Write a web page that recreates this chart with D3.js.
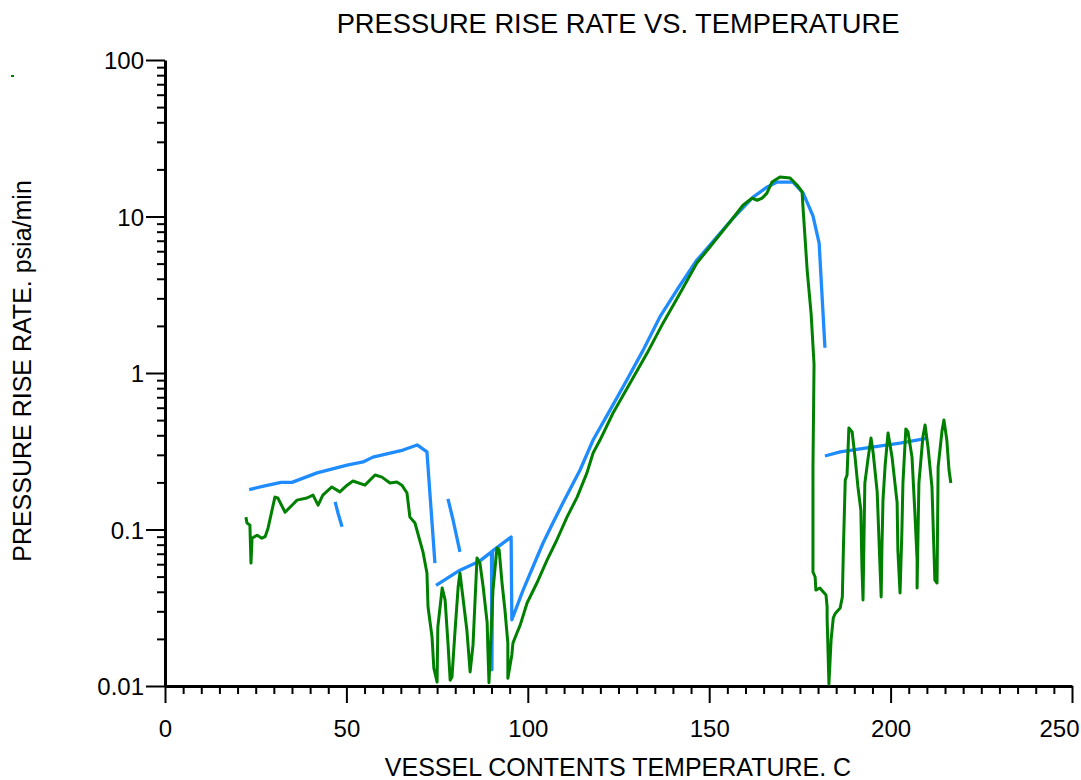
<!DOCTYPE html>
<html>
<head>
<meta charset="utf-8">
<script src="https://cdn.jsdelivr.net/npm/d3@7"></script>
<style>
  body { margin: 0; background: #fff; }
  text { font-family: "Liberation Sans", Arial, sans-serif; fill: #000; }
</style>
</head>
<body>
<div id="chart"></div>
<script>
// temperature (C), pressure rise rate (psia/min)
var blueRunA = [[23.2,0.18],[27.5,0.19],[32,0.20],[35,0.20],[41.9,0.23],[50.2,0.258],[54.6,0.27],
    [57.3,0.29],[65.6,0.322],[69.5,0.347],[72.2,0.313],[74.4,0.061]];
var blueRunB = [[46.9,0.150],[47.7,0.127],[48.8,0.104]];
var blueRunC = [[78.0,0.157],[79.4,0.115],[81.3,0.072]];
var blueRunD = [[74.7,0.044],[81.3,0.055],[86.8,0.063],[90.0,0.072],[90.1,0.0127],[90.3,0.073],
    [95.4,0.0895],[95.6,0.0265],[98.7,0.041],[101.4,0.0576],[104.2,0.082],[106.9,0.110],
    [109.7,0.148],[114.4,0.240],[118.0,0.373],[122.7,0.581],[127.3,0.902],[131.8,1.40],
    [136.4,2.28],[141.1,3.39],[146.6,5.27],[148.3,5.84],[156.6,9.78],[162.1,13.3],
    [165.9,15.4],[168.7,16.6],[173.1,16.6],[175.9,14.1],[178.6,10.1],[180.3,6.77],[181.9,1.45]];
var blueRunE = [[181.9,0.295],[186.1,0.313],[193.5,0.332],[202.6,0.357],[210.3,0.384]];

var greenEarly = [[22.3,0.120],[22.6,0.110],[23.4,0.107],[23.7,0.061],[24.0,0.088],[25.4,0.092],
    [26.7,0.088],[27.6,0.090],[28.4,0.102],[29.5,0.133],[30.3,0.161],[31.1,0.159],[33.1,0.129],
    [35.0,0.143],[36.4,0.154],[39.1,0.159],[40.8,0.166],[42.2,0.143],[43.5,0.166],[46.0,0.187],
    [48.2,0.174],[50.2,0.192],[51.8,0.204],[55.1,0.192],[57.9,0.223],[59.8,0.216],[62.0,0.198],
    [63.9,0.201],[65.3,0.192],[66.7,0.171],[67.5,0.120],[68.9,0.110],[71.1,0.072],[72.2,0.0527],
    [72.5,0.032],[73.6,0.0206],[74.1,0.013]];
var greenDips = [[75.0,0.0106],[75.2,0.0238],[76.4,0.0423],[77.2,0.0355],[78.0,0.0188],[78.6,0.0109],
    [79.1,0.0114],[79.9,0.0218],[80.8,0.0429],[81.3,0.0527],[82.1,0.0371],[83.2,0.0228],[84.1,0.0123],
    [84.9,0.0183],[86.0,0.0657],[86.8,0.0611],[87.7,0.0429],[88.8,0.0253],[89.0,0.017],[89.3,0.0105],
    [90.4,0.041],[91.5,0.0762],[92.1,0.074],[92.9,0.0455],[93.7,0.0306],[94.5,0.0188],[94.5,0.0112],
    [95.6,0.0158],[95.9,0.0188],[97.0,0.0218]];
var greenRamp = [[97.9,0.0245],[99.8,0.0339],[102.5,0.0455],[105.3,0.0638],[108.0,0.0857],
    [110.8,0.120],[113.6,0.161],[116.3,0.230],[118.0,0.308],[119.9,0.373],[123.5,0.555],[128.2,0.863],
    [132.9,1.34],[137.3,2.09],[142.0,3.25],[146.6,5.05],[150.2,6.38],[153.5,7.96],[156.6,9.78],
    [159.3,11.8],[161.8,13.1],[163.2,12.7],[164.6,13.1],[165.9,14.1],[167.3,16.6],[169.5,17.9],
    [172.3,17.6],[174.2,15.9],[175.6,14.4],[175.9,11.0],[176.4,7.40],[177.0,4.55],[178.1,2.38],
    [178.9,1.14],[178.6,0.251],[178.6,0.0535],[179.2,0.0497],[179.4,0.041],[180.5,0.0423],
    [181.4,0.040],[182.2,0.0381],[182.5,0.032],[182.5,0.0272],[183.0,0.0103]];
var greenTail = [[183.6,0.0197],[184.2,0.0272],[184.8,0.0292],[186.1,0.0315],[186.7,0.0371],
    [187.0,0.0773],[187.5,0.207],[188.0,0.223],[188.5,0.446],[189.4,0.420],[190.2,0.290],[191.0,0.187],
    [191.8,0.133],[192.1,0.0576],[192.4,0.0355],[192.9,0.198],[193.8,0.286],[194.6,0.384],[195.2,0.308],
    [196.3,0.174],[196.8,0.0857],[197.4,0.0371],[197.6,0.074],[197.9,0.154],[198.5,0.258],[199.3,0.414],
    [200.4,0.290],[201.8,0.148],[202.0,0.074],[202.6,0.0393],[203.1,0.095],[203.4,0.198],[204.2,0.439],
    [204.8,0.420],[205.9,0.290],[206.7,0.127],[207.3,0.0638],[207.3,0.0423],[207.8,0.198],[208.9,0.390],
    [209.5,0.466],[210.3,0.337],[211.4,0.187],[212.2,0.0475],[212.8,0.0455],[213.1,0.251],[214.2,0.432],
    [214.7,0.501],[215.5,0.373],[216.1,0.240],[216.6,0.198]];

var xMajor = [0, 50, 100, 150, 200, 250];
var yMajor = [0.01, 0.1, 1, 10, 100];
var yLabels = ["0.01", "0.1", "1", "10", "100"];

var width = 1081, height = 780;
var svg = d3.select("#chart").append("svg")
    .attr("width", width).attr("height", height);

var x = d3.scaleLinear().domain([0, 250]).range([165, 1072]);
var y = d3.scaleLog().domain([0.01, 100]).range([686, 60]);

// minor ticks
var xMinor = d3.range(0, 251, 5).filter(function (d) { return d % 50 !== 0; });
var yMinor = [];
yMajor.slice(0, 4).forEach(function (d) {
    for (var k = 2; k <= 9; k++) yMinor.push(d * k);
});

var xMinorAxis = svg.append("g").attr("transform", "translate(0,686)")
    .call(d3.axisBottom(x).tickValues(xMinor).tickSize(8).tickFormat(""));
var yMinorAxis = svg.append("g").attr("transform", "translate(165,0)")
    .call(d3.axisLeft(y).tickValues(yMinor).tickSize(8).tickFormat(""));

var xAxis = svg.append("g").attr("transform", "translate(0,686)")
    .call(d3.axisBottom(x).tickValues(xMajor).tickSize(17).tickSizeOuter(0).tickPadding(17)
        .tickFormat(d3.format("d")));
var yAxis = svg.append("g").attr("transform", "translate(165,0)")
    .call(d3.axisLeft(y).tickValues(yMajor).tickSize(19).tickSizeOuter(0).tickPadding(2)
        .tickFormat(function (d, i) { return yLabels[i]; }));

[xMinorAxis, yMinorAxis].forEach(function (g) { g.select(".domain").remove(); });
svg.selectAll(".tick line").attr("stroke", "#000").attr("stroke-width", 2);
[xAxis, yAxis].forEach(function (g) {
    g.select(".domain").attr("stroke", "#000").attr("stroke-width", 3);
    g.selectAll(".tick text").style("font-size", "24px")
        .style("font-family", "'Liberation Sans', Arial, sans-serif");
});
yAxis.selectAll(".tick text").attr("dy", "0.36em");
// last x label is pushed in so it stays on the page
xAxis.selectAll(".tick text")
    .filter(function (d) { return d === 250; })
    .attr("text-anchor", "end")
    .attr("x", 1079 - x(250));

// lines
var line = d3.line()
    .x(function (d) { return x(d[0]); })
    .y(function (d) { return y(d[1]); });

var plot = svg.append("g");
[blueRunA, blueRunB, blueRunC, blueRunD, blueRunE].forEach(function (run) {
    plot.append("path")
        .attr("d", line(run))
        .attr("fill", "none")
        .attr("stroke", "#1e8cff")
        .attr("stroke-width", 3.3)
        .attr("stroke-linejoin", "round");
});

var greenAll = greenEarly.concat(greenDips, greenRamp, greenTail);
plot.append("path")
    .attr("d", line(greenAll))
    .attr("fill", "none")
    .attr("stroke", "#008000")
    .attr("stroke-width", 3)
    .attr("stroke-linejoin", "round");

// stray legend dash
svg.append("line")
    .attr("x1", 11).attr("x2", 14).attr("y1", 76).attr("y2", 76)
    .attr("stroke", "#008000").attr("stroke-width", 2);

// titles
svg.append("text")
    .attr("x", 618).attr("y", 33)
    .attr("text-anchor", "middle")
    .style("font-size", "27.3px")
    .text("PRESSURE RISE RATE VS. TEMPERATURE");

svg.append("text")
    .attr("x", 618).attr("y", 776)
    .attr("text-anchor", "middle")
    .style("font-size", "25px")
    .text("VESSEL CONTENTS TEMPERATURE. C");

svg.append("text")
    .attr("transform", "translate(31,371) rotate(-90)")
    .attr("text-anchor", "middle")
    .style("font-size", "25px")
    .text("PRESSURE RISE RATE. psia/min");
</script>
</body>
</html>
